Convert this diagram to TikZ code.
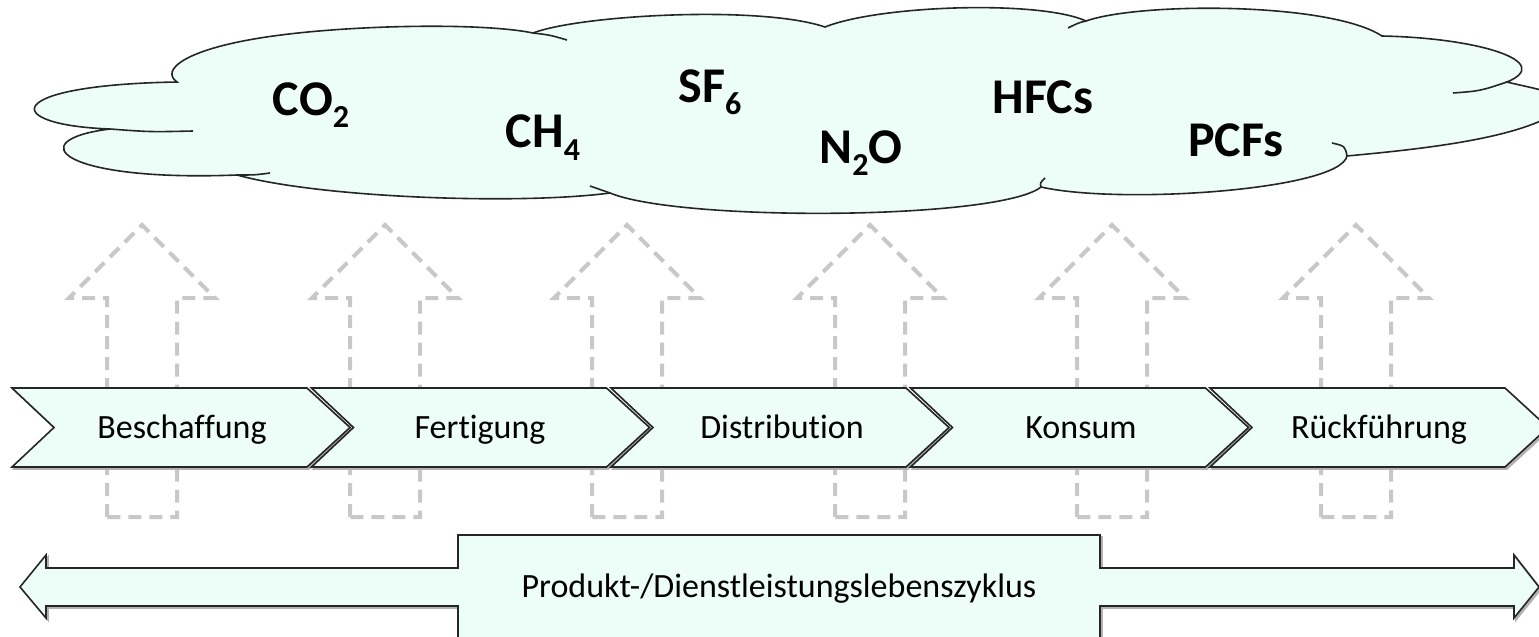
\documentclass[tikz,border=0pt]{standalone}
\usepackage{fontspec}
\setmainfont{Carlito}[Ligatures=NoCommon]
\usepackage{tikz}
\definecolor{mint}{RGB}{237,253,248}
\definecolor{dashgray}{RGB}{200,200,200}
\newcommand{\gsub}[1]{\raisebox{-6pt}{\fontsize{16}{16}\selectfont #1}}

\begin{document}
\begin{tikzpicture}[x=0.5pt,y=-0.5pt,
    gas/.style={font=\fontsize{25}{30}\selectfont\bfseries, inner sep=0pt, anchor=base},
    stage/.style={font=\fontsize{17}{20}\selectfont, inner sep=0pt, anchor=base},
    band/.style={draw=black!85, fill=mint, line width=0.8pt, line join=miter},
    bandshadow/.style={fill=black!30, draw=black!30, line width=0.8pt},
    upflow/.style={draw=dashgray, line width=2pt, dash pattern=on 6.5pt off 4pt}]
    \useasboundingbox (0,0) rectangle (1539,637);
    \clip (0,0) rectangle (1539,637);

    % dashed arrows behind the chain
    \draw [upflow] (107,517) -- (107,298) -- (69,298) -- (142,225) -- (215,298) -- (177,298) -- (177,517) -- cycle;
    \draw [upflow] (350,517) -- (350,298) -- (312,298) -- (385,225) -- (458,298) -- (420,298) -- (420,517) -- cycle;
    \draw [upflow] (592,517) -- (592,298) -- (554,298) -- (627,225) -- (700,298) -- (662,298) -- (662,517) -- cycle;
    \draw [upflow] (835,517) -- (835,298) -- (797,298) -- (870,225) -- (943,298) -- (905,298) -- (905,517) -- cycle;
    \draw [upflow] (1077,517) -- (1077,298) -- (1039,298) -- (1112,225) -- (1185,298) -- (1147,298) -- (1147,517) -- cycle;
    \draw [upflow] (1321,517) -- (1321,298) -- (1283,298) -- (1356,225) -- (1429,298) -- (1391,298) -- (1391,517) -- cycle;

    % cloud
    \draw [band] (177,82) .. controls (160,70) and (185,50) .. (260,38)
        .. controls (340,25) and (480,22) .. (533,33)
        .. controls (580,15) and (760,5) .. (825,27)
        .. controls (880,5) and (1040,0) .. (1086,21)
        .. controls (1140,2) and (1330,2) .. (1382,36)
        .. controls (1480,38) and (1555,62) .. (1507,82)
        .. controls (1530,88) and (1580,95) .. (1560,110)
        .. controls (1520,140) and (1410,150) .. (1347,156)
        .. controls (1340,190) and (1120,205) .. (1041,187)
        .. controls (1000,220) and (680,222) .. (610,193)
        .. controls (520,205) and (320,198) .. (237,175)
        .. controls (60,182) and (20,140) .. (110,129)
        .. controls (0,125) and (0,85) .. cycle;
    \draw [black!85, line width=0.8pt] (110,129) .. controls (150,132) .. (193,131);
    \draw [black!85, line width=0.8pt] (237,175) .. controls (255,175) .. (270,173);
    \draw [black!85, line width=0.8pt] (533,33) .. controls (550,35) .. (567,40);
    \draw [black!85, line width=0.8pt] (610,193) .. controls (600,190) .. (590,186);
    \draw [black!85, line width=0.8pt] (1086,21) .. controls (1078,23) .. (1068,28);
    \draw [black!85, line width=0.8pt] (1041,187) .. controls (1040,183) .. (1045,178);
    \draw [black!85, line width=0.8pt] (1507,82) .. controls (1480,91) .. (1453,93);
    \draw [black!85, line width=0.8pt] (1347,156) .. controls (1345,146) .. (1332,143);
    \node [gas] (co2) at (311,115) {CO\gsub{2}};
    \node [gas] (ch4) at (543,148) {CH\gsub{4}};
    \node [gas] (sf6) at (710,102) {SF\gsub{6}};
    \node [gas] (n2o) at (861,163) {N\gsub{2}O};
    \node [gas] (hfc) at (1043,113) {HFCs};
    \node [gas] (pcf) at (1236,156) {PCFs};

    % value chain
    \fill [bandshadow] (14,390) -- (309,390) -- (352,429.5) -- (309,469) -- (14,469) -- (56,429.5) -- cycle;
    \draw [band] (12,388) -- (307,388) -- (350,427.5) -- (307,467) -- (12,467) -- (54,427.5) -- cycle;
    \fill [bandshadow] (313.5,390) -- (608.5,390) -- (651.5,429.5) -- (608.5,469) -- (313.5,469) -- (355.5,429.5) -- cycle;
    \draw [band] (311.5,388) -- (606.5,388) -- (649.5,427.5) -- (606.5,467) -- (311.5,467) -- (353.5,427.5) -- cycle;
    \fill [bandshadow] (613,390) -- (908,390) -- (951,429.5) -- (908,469) -- (613,469) -- (655,429.5) -- cycle;
    \draw [band] (611,388) -- (906,388) -- (949,427.5) -- (906,467) -- (611,467) -- (653,427.5) -- cycle;
    \fill [bandshadow] (912.5,390) -- (1207.5,390) -- (1250.5,429.5) -- (1207.5,469) -- (912.5,469) -- (954.5,429.5) -- cycle;
    \draw [band] (910.5,388) -- (1205.5,388) -- (1248.5,427.5) -- (1205.5,467) -- (910.5,467) -- (952.5,427.5) -- cycle;
    \fill [bandshadow] (1212,390) -- (1507,390) -- (1550,429.5) -- (1507,469) -- (1212,469) -- (1254,429.5) -- cycle;
    \draw [band] (1210,388) -- (1505,388) -- (1548,427.5) -- (1505,467) -- (1210,467) -- (1252,427.5) -- cycle;
    \node [stage] (beschaffung) at (182,438) {Beschaffung};
    \node [stage] (fertigung) at (480,438) {Fertigung};
    \node [stage] (distribution) at (782,438) {Distribution};
    \node [stage] (konsum) at (1081,438) {Konsum};
    \node [stage] (rueckfuehrung) at (1379,438) {Rückführung};

    % life cycle arrow
    \fill [bandshadow] (22,589) -- (48,557) -- (48,570) -- (460,570) -- (460,537) -- (1102,537) -- (1102,570) -- (1516,570) -- (1516,557) -- (1541,589) -- (1516,620) -- (1516,608) -- (1102,608) -- (1102,660) -- (460,660) -- (460,608) -- (48,608) -- (48,620) -- cycle;
    \draw [band] (20,587) -- (46,555) -- (46,568) -- (458,568) -- (458,535) -- (1100,535) -- (1100,568) -- (1514,568) -- (1514,555) -- (1539,587) -- (1514,618) -- (1514,606) -- (1100,606) -- (1100,660) -- (458,660) -- (458,606) -- (46,606) -- (46,618) -- cycle;
    \node [stage] (zyklus) at (779,597) {Produkt-/Dienstleistungslebenszyklus};
\end{tikzpicture}
\end{document}
